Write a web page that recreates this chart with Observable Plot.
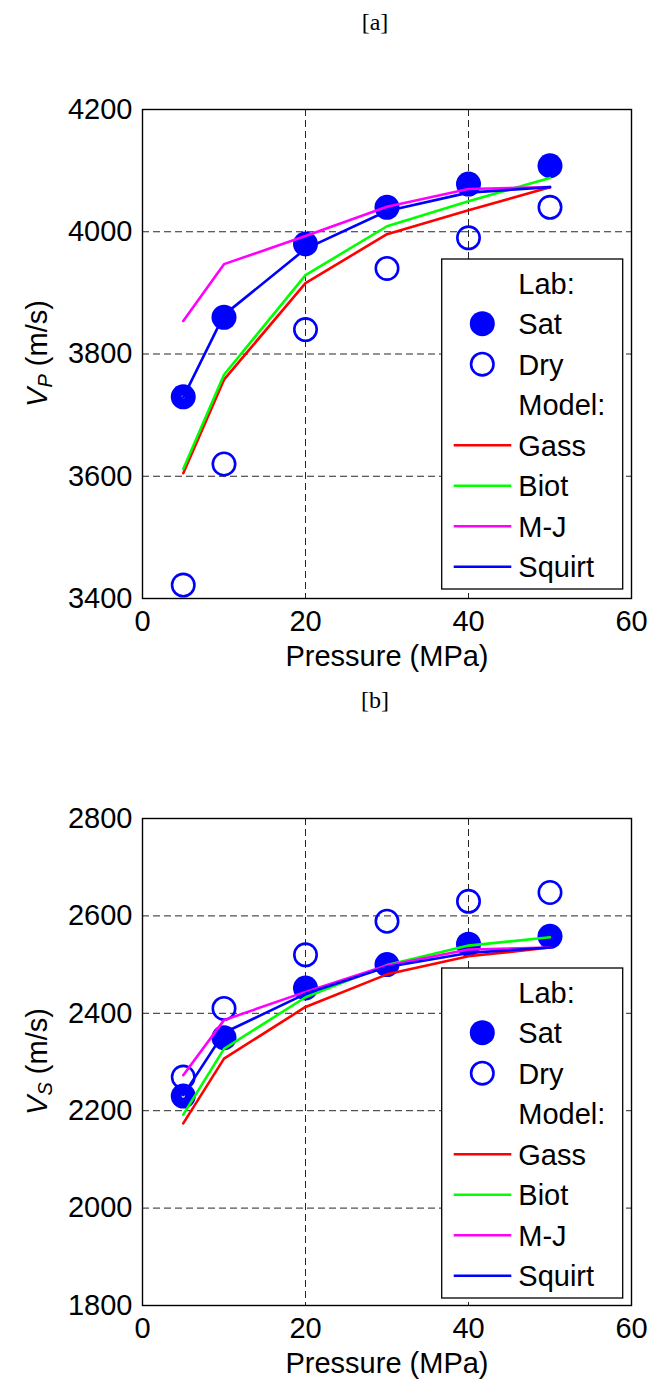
<!DOCTYPE html>
<html><head><meta charset="utf-8">
<script src="https://cdn.jsdelivr.net/npm/d3@7"></script>
<script src="https://cdn.jsdelivr.net/npm/@observablehq/plot@0.6"></script>
<style>
body{margin:0;background:#fff;}
#page{position:relative;width:651px;height:1380px;overflow:hidden;font-family:"Liberation Sans",Arial,sans-serif;}
.panel{position:absolute;left:0;}
.tag{position:absolute;z-index:2;font-family:"Liberation Serif","Times New Roman",serif;font-size:24px;transform:translate(-50%,-50%);color:#000;}
</style></head><body><div id="page"></div>
<script>
// ---- data ----
const pressure = [5, 10, 20, 30, 40, 50];
const vpSat    = [3730, 3860, 3980, 4040, 4078, 4108];
const vpDry    = [3422, 3620, 3840, 3940, 3990, 4040];
const vpGass   = [3605, 3758, 3916, 3996, 4035, 4073];
const vpBiot   = [3612, 3766, 3929, 4009, 4050, 4088];
const vpMJ     = [3854, 3947, 3993, 4041, 4070, 4073];
const vpSquirt = [3729, 3864, 3972, 4034, 4064, 4073];

const vsSat    = [2230, 2350, 2452, 2500, 2542, 2558];
const vsDry    = [2269, 2410, 2520, 2589, 2630, 2648];
const vsGass   = [2174, 2307, 2413, 2480, 2517, 2535];
const vsBiot   = [2192, 2327, 2433, 2499, 2539, 2556];
const vsMJ     = [2273, 2386, 2444, 2498, 2531, 2535];
const vsSquirt = [2232, 2360, 2440, 2495, 2524, 2535];

const xTicks  = [0, 20, 40, 60];
const vpTicks = [3400, 3600, 3800, 4000, 4200];
const vsTicks = [1800, 2000, 2200, 2400, 2600, 2800];
const modelNames  = ["Gass", "Biot", "M-J", "Squirt"];
const modelColors = ["#ff0000", "#00ff00", "#ff00ff", "#0000ff"];
const legendLabels = ["Lab:", "Sat", "Dry", "Model:", ...modelNames];
const xLabel = "Pressure (MPa)";
const panelTags = ["[a]", "[b]"];

const FONT = '"Liberation Sans", Arial, sans-serif';
const page = document.getElementById("page");

function makePanel({top, height, marginTop, marginBottom, sat, dry, models, ticks, sub, tag, tagY}) {
  const pts = (vals) => pressure.map((p, i) => ({p, v: vals[i]}));
  const lineMarks = models.map((vals, k) =>
    Plot.line(pts(vals), {x: "p", y: "v", stroke: modelColors[k], strokeWidth: 2.6, strokeLinejoin: "miter"}));
  const svg = Plot.plot({
    width: 651, height,
    marginLeft: 142, marginRight: 20, marginTop, marginBottom,
    style: {fontFamily: FONT, fontSize: "29px", color: "#000", background: "transparent", overflow: "visible"},
    x: {domain: [xTicks[0], xTicks[xTicks.length - 1]]},
    y: {domain: [ticks[0], ticks[ticks.length - 1]]},
    marks: [
      Plot.gridX(xTicks.slice(1, -1), {stroke: "#000", strokeOpacity: 0.85, strokeWidth: 1, strokeDasharray: "7,4"}),
      Plot.gridY(ticks.slice(1, -1), {stroke: "#000", strokeOpacity: 0.85, strokeWidth: 1, strokeDasharray: "7,4"}),
      Plot.axisX(xTicks, {tickSize: 0, tickPadding: 12, tickFormat: d3.format("d"), label: xLabel, labelAnchor: "center", labelOffset: 67, labelArrow: "none", fontSize: 29}),
      Plot.axisY(ticks, {tickSize: 0, tickPadding: 10, tickFormat: d3.format("d"), label: null, fontSize: 29}),
      Plot.dot(pts(sat), {x: "p", y: "v", r: 12.5, fill: "#0000ff", stroke: "none"}),
      Plot.dot(pts(dry), {x: "p", y: "v", r: 11.2, fill: "none", stroke: "#0000ff", strokeWidth: 2.6}),
      Plot.dot(pts(sat).slice(0, 1), {x: "p", y: "v", r: 1.6, fill: "#fff"}),
      ...lineMarks,
      Plot.frame({stroke: "#000", strokeWidth: 1.4})
    ]
  });
  const s = d3.select(svg);
  // y label with subscript
  const yc = marginTop + (height - marginTop - marginBottom) / 2;
  const yl = s.append("text")
    .attr("transform", `translate(47,${yc}) rotate(-90)`)
    .attr("text-anchor", "middle")
    .attr("font-family", FONT).attr("font-size", 29).attr("fill", "#000");
  yl.append("tspan").attr("font-style", "italic").text("V");
  yl.append("tspan").attr("font-style", "italic").attr("font-size", 20).attr("dy", 5).text(sub);
  yl.append("tspan").attr("dy", -5).text(" (m/s)");

  // legend
  const lgTop = marginTop + 150;
  const g = s.append("g").attr("text-anchor", "start");
  g.append("rect").attr("x", 441.7).attr("y", lgTop).attr("width", 181).attr("height", 330)
    .attr("fill", "#fff").attr("stroke", "#000").attr("stroke-width", 1.3);
  legendLabels.forEach((lab, i) => {
    const cy = lgTop + 24.2 + 40.5 * i;
    g.append("text").attr("x", 518.3).attr("y", cy).attr("dy", "0.36em").attr("text-anchor", "start")
      .attr("font-family", FONT).attr("font-size", 29).attr("fill", "#000").text(lab);
    if (lab === "Sat") g.append("circle").attr("cx", 482.3).attr("cy", cy).attr("r", 12.5).attr("fill", "#0000ff");
    if (lab === "Dry") g.append("circle").attr("cx", 482.3).attr("cy", cy).attr("r", 11.2).attr("fill", "none").attr("stroke", "#0000ff").attr("stroke-width", 2.6);
    const k = modelNames.indexOf(lab);
    if (k >= 0) g.append("line").attr("x1", 453.7).attr("x2", 511.3).attr("y1", cy).attr("y2", cy)
      .attr("stroke", modelColors[k]).attr("stroke-width", 2.6);
  });

  const wrap = document.createElement("div");
  wrap.className = "panel";
  wrap.style.top = top + "px";
  wrap.appendChild(svg);
  page.appendChild(wrap);

  const t = document.createElement("div");
  t.className = "tag";
  t.style.left = "375px";
  t.style.top = tagY + "px";
  t.textContent = tag;
  page.appendChild(t);
}

makePanel({top: 0, height: 690, marginTop: 109, marginBottom: 92,
  sat: vpSat, dry: vpDry, models: [vpGass, vpBiot, vpMJ, vpSquirt], ticks: vpTicks, sub: "P",
  tag: panelTags[0], tagY: 22});
makePanel({top: 690, height: 690, marginTop: 128, marginBottom: 75,
  sat: vsSat, dry: vsDry, models: [vsGass, vsBiot, vsMJ, vsSquirt], ticks: vsTicks, sub: "S",
  tag: panelTags[1], tagY: 700});
</script>
</body></html>
